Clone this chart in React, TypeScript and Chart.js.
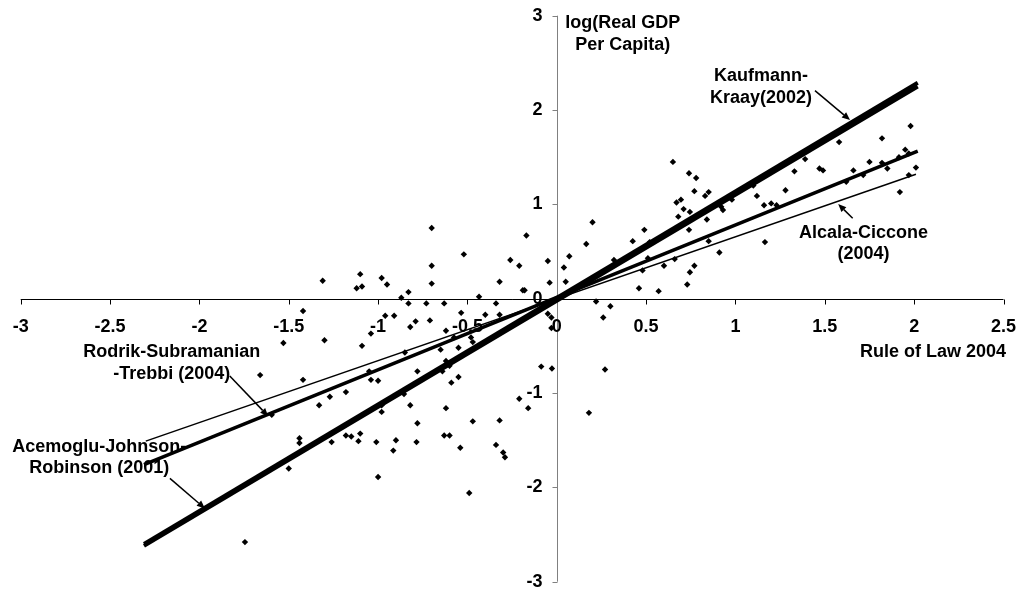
import React, { useEffect, useRef } from "react";
import { Chart, registerables } from "chart.js";

Chart.register(...registerables);

// ---- Axis ticks ----
const xTicks = [-3, -2.5, -2, -1.5, -1, -0.5, 0, 0.5, 1, 1.5, 2, 2.5];
const xTickLabels = ["-3", "-2.5", "-2", "-1.5", "-1", "-0.5", "0", "0.5", "1", "1.5", "2", "2.5"];
const yTicks = [-3, -2, -1, 0, 1, 2, 3];
const yTickLabels = ["-3", "-2", "-1", "0", "1", "2", "3"];

const xTitle = "Rule of Law 2004";
const yTitle = ["log(Real GDP", "Per Capita)"];

// ---- Country observations (Rule of Law 2004, log real GDP per capita) ----
const ruleOfLaw = [
  -1.31, -1.12, -1.09, -1.10, -0.98, -0.95, -0.87, -0.83, -0.70, -0.70,
  -0.70, -0.52, -0.435, -0.32, -0.26, -0.21, -0.17, -0.19, -0.18, -0.05,
  -0.04, 0.04, 0.05, 0.07, 0.165, 0.20, 0.32, 0.425, 0.46, 0.49,
  0.48, 0.51, 0.52, 0.57, 0.60, 0.65, 0.66, 0.67, 0.695, 0.68,
  0.71, 0.73, 0.74, 0.74, 0.745, 0.77, 0.77, 0.78, 0.745, 1.98,
  1.82, 1.58, 1.41, 1.39, 1.33, 1.47, 1.49, 1.66, 1.75, 1.82,
  1.85, 1.715, 1.915, 1.95, 1.97, 2.01, 1.97, 1.92, 1.62, 1.28,
  1.10, 1.12, 1.16, 1.20, 1.23, 1.165, 0.85, 0.83, 0.92, 0.93,
  0.98, 0.84, 0.85, 0.91, -1.44, -1.44, -1.42, -1.42, -1.33, -1.30,
  -1.27, -1.26, -1.18, -1.18, -1.15, -1.11, -1.10, -1.09, -1.05, -1.04,
  -1.04, -1.01, -1.00, -1.00, -0.98, -0.98, -0.96, -0.91, -0.915, -0.90,
  -0.85, -0.855, -0.83, -0.82, -0.79, -0.82, -0.78, -0.78, -0.785, -0.73,
  -0.71, -0.65, -0.64, -0.63, -0.62, -0.62, -0.63, -0.60, -0.62, -0.60,
  -0.59, -0.575, -0.55, -0.55, -0.54, -0.535, -0.49, -0.48, -0.47, -0.47,
  -0.40, -0.34, -0.32, -0.34, -0.32, -0.30, -0.29, -0.21, -0.16, -0.087,
  -0.027, -0.05, -0.03, 0.22, 0.26, 0.30, 0.27, 0.18, -1.53, -1.66,
  -1.595, -1.50, -1.745, -0.03,
];
const logGdp = [
  0.19, 0.11, 0.13, 0.26, 0.22, 0.15, 0.01, 0.07, 0.75, 0.35,
  0.16, 0.47, 0.02, 0.18, 0.41, 0.35, 0.67, 0.09, 0.09, 0.40,
  0.17, 0.33, 0.18, 0.45, 0.58, 0.81, 0.41, 0.61, 0.11, 0.73,
  0.30, 0.43, 0.60, 0.08, 0.35, 1.45, 0.42, 1.02, 1.05, 0.87,
  0.95, 0.15, 1.33, 0.73, 0.28, 0.35, 1.14, 1.28, 0.92, 1.83,
  1.70, 1.66, 1.58, 1.48, 1.35, 1.38, 1.36, 1.36, 1.45, 1.44,
  1.38, 1.31, 1.50, 1.58, 1.54, 1.39, 1.31, 1.13, 1.24, 1.15,
  1.20, 1.09, 0.99, 1.01, 0.99, 0.60, 1.13, 1.09, 0.975, 0.94,
  1.05, 0.84, 0.61, 0.49, -1.48, -1.53, -0.13, -0.86, -1.13, -0.44,
  -1.04, -1.52, -0.99, -1.45, -1.46, -1.51, -1.43, -0.50, -0.77, -0.86,
  -0.37, -1.52, -0.87, -1.89, -1.20, -1.13, -0.18, -0.18, -1.61, -1.50,
  -0.57, -1.01, -0.05, -0.30, -0.24, -1.13, -0.77, -1.32, -1.52, -0.05,
  -0.23, -0.54, -0.77, -0.05, -0.34, -1.16, -1.45, -1.45, -0.66, -0.71,
  -0.89, -0.41, -0.52, -0.83, -1.58, -0.15, -2.06, -0.41, -0.46, -1.30,
  -0.17, -0.05, -0.17, -1.55, -1.29, -1.63, -1.68, -1.06, -1.16, -0.72,
  -0.74, -0.16, -0.20, -0.03, -0.20, -0.08, -0.75, -1.21, -0.47, -0.81,
  -1.23, -1.80, -2.58, -0.31,
];

// ---- Fitted lines (end points) ----
const fitNames = [
  "Acemoglu-Johnson-Robinson (2001)",
  "Kaufmann-Kraay(2002)",
  "Rodrik-Subramanian-Trebbi (2004)",
  "Alcala-Ciccone (2004)",
];
const fitX = [
  [-2.31, 2.02],
  [-2.31, 2.02],
  [-2.31, 2.02],
  [-2.30, 2.01],
];
const fitY = [
  [-2.62, 2.25],
  [-2.60, 2.29],
  [-1.76, 1.565],
  [-1.51, 1.32],
];

// ---- Callout labels (data coordinates) ----
const notes = [
  { lines: ["Kaufmann-", "Kraay(2002)"], x: 1.143, y: 2.36, from: [1.445, 2.205], to: [1.641, 1.894] },
  { lines: ["Alcala-Ciccone", "(2004)"], x: 1.717, y: 0.70, from: [1.656, 0.852], to: [1.575, 1.004] },
  { lines: ["Rodrik-Subramanian", "-Trebbi (2004)"], x: -2.155, y: -0.57, from: [-1.83, -0.82], to: [-1.615, -1.245] },
  { lines: ["Acemoglu-Johnson-", "Robinson (2001)"], x: -2.56, y: -1.57, from: [-2.165, -1.905], to: [-1.969, -2.223] },
];

const FONT = "bold 18px 'Liberation Sans', Arial, Helvetica, sans-serif";

const drawArrow = (ctx: CanvasRenderingContext2D, x1: number, y1: number, x2: number, y2: number) => {
  const ang = Math.atan2(y2 - y1, x2 - x1);
  const head = 8;
  const wing = 3.5;
  const bx = x2 - head * Math.cos(ang);
  const by = y2 - head * Math.sin(ang);
  ctx.beginPath();
  ctx.lineWidth = 1.5;
  ctx.moveTo(x1, y1);
  ctx.lineTo(bx, by);
  ctx.stroke();
  ctx.beginPath();
  ctx.moveTo(x2, y2);
  ctx.lineTo(bx + wing * Math.sin(ang), by - wing * Math.cos(ang));
  ctx.lineTo(bx - wing * Math.sin(ang), by + wing * Math.cos(ang));
  ctx.closePath();
  ctx.fill();
};

const axesPlugin = {
  id: "crossAxes",
  beforeDatasetsDraw(chart: any) {
    const { ctx } = chart;
    const xs = chart.scales.x;
    const ys = chart.scales.y;
    const x0 = Math.round(xs.getPixelForValue(0)) + 0.5;
    const y0 = Math.round(ys.getPixelForValue(0)) + 0.5;
    ctx.save();
    // horizontal axis
    ctx.strokeStyle = "#000";
    ctx.lineWidth = 1;
    ctx.beginPath();
    ctx.moveTo(xs.getPixelForValue(xTicks[0]), y0);
    ctx.lineTo(xs.getPixelForValue(xTicks[xTicks.length - 1]), y0);
    xTicks.forEach((v) => {
      const px = Math.round(xs.getPixelForValue(v)) + 0.5;
      ctx.moveTo(px, y0);
      ctx.lineTo(px, y0 + 5);
    });
    ctx.stroke();
    // vertical axis
    ctx.strokeStyle = "#808080";
    ctx.beginPath();
    ctx.moveTo(x0, ys.getPixelForValue(yTicks[0]));
    ctx.lineTo(x0, ys.getPixelForValue(yTicks[yTicks.length - 1]));
    yTicks.forEach((v) => {
      const py = Math.round(ys.getPixelForValue(v)) + 0.5;
      ctx.moveTo(x0, py);
      ctx.lineTo(x0 - 5, py);
    });
    ctx.stroke();
    // tick labels
    ctx.fillStyle = "#000";
    ctx.font = FONT;
    ctx.textAlign = "center";
    ctx.textBaseline = "middle";
    xTicks.forEach((v, i) => {
      ctx.fillText(xTickLabels[i], xs.getPixelForValue(v), y0 + 28);
    });
    ctx.textAlign = "right";
    yTicks.forEach((v, i) => {
      ctx.fillText(yTickLabels[i], x0 - 15, ys.getPixelForValue(v));
    });
    // axis titles
    ctx.textAlign = "right";
    ctx.fillText(xTitle, xs.getPixelForValue(2.514), ys.getPixelForValue(-0.562));
    ctx.textAlign = "center";
    yTitle.forEach((t, i) => {
      ctx.fillText(t, xs.getPixelForValue(0.369), ys.getPixelForValue(2.926) + i * 22);
    });
    ctx.restore();
  },
  afterDatasetsDraw(chart: any) {
    const { ctx } = chart;
    const xs = chart.scales.x;
    const ys = chart.scales.y;
    ctx.save();
    ctx.fillStyle = "#000";
    ctx.strokeStyle = "#000";
    ctx.font = FONT;
    ctx.textAlign = "center";
    ctx.textBaseline = "middle";
    notes.forEach((n) => {
      const cx = xs.getPixelForValue(n.x);
      const cy = ys.getPixelForValue(n.y);
      n.lines.forEach((t, i) => ctx.fillText(t, cx, cy + i * 21.5));
      drawArrow(
        ctx,
        xs.getPixelForValue(n.from[0]),
        ys.getPixelForValue(n.from[1]),
        xs.getPixelForValue(n.to[0]),
        ys.getPixelForValue(n.to[1])
      );
    });
    ctx.restore();
  },
};

export default function App() {
  const canvasRef = useRef<HTMLCanvasElement | null>(null);

  useEffect(() => {
    if (!canvasRef.current) return;
    const widths = [4, 4, 3.5, 1.5];
    const lineSets = fitNames.map((name, i) => ({
      label: name,
      data: fitX[i].map((x, j) => ({ x, y: fitY[i][j] })),
      showLine: true,
      pointRadius: 0,
      borderColor: "#000",
      backgroundColor: "#000",
      borderWidth: widths[i],
      order: 1,
    }));
    const chart = new Chart(canvasRef.current, {
      type: "scatter",
      data: {
        datasets: [
          {
            label: "Countries",
            data: ruleOfLaw.map((x, i) => ({ x, y: logGdp[i] })),
            pointStyle: "rectRot",
            pointRadius: 3.2,
            borderWidth: 0,
            backgroundColor: "#000",
            borderColor: "#000",
            order: 2,
          },
          ...lineSets,
        ],
      },
      options: {
        responsive: true,
        maintainAspectRatio: false,
        animation: false,
        layout: { padding: { left: 20.7, right: 19.5, top: 15.7, bottom: 12.3 } },
        scales: {
          x: { type: "linear", min: -3, max: 2.5, display: false },
          y: { type: "linear", min: -3, max: 3, display: false },
        },
        plugins: { legend: { display: false }, tooltip: { enabled: false } },
      },
      plugins: [axesPlugin],
    } as any);
    return () => chart.destroy();
  }, []);

  return (
    <div style={{ position: "fixed", left: 0, top: 0, width: 1023, height: 594, background: "#fff" }}>
      <canvas ref={canvasRef} />
    </div>
  );
}
